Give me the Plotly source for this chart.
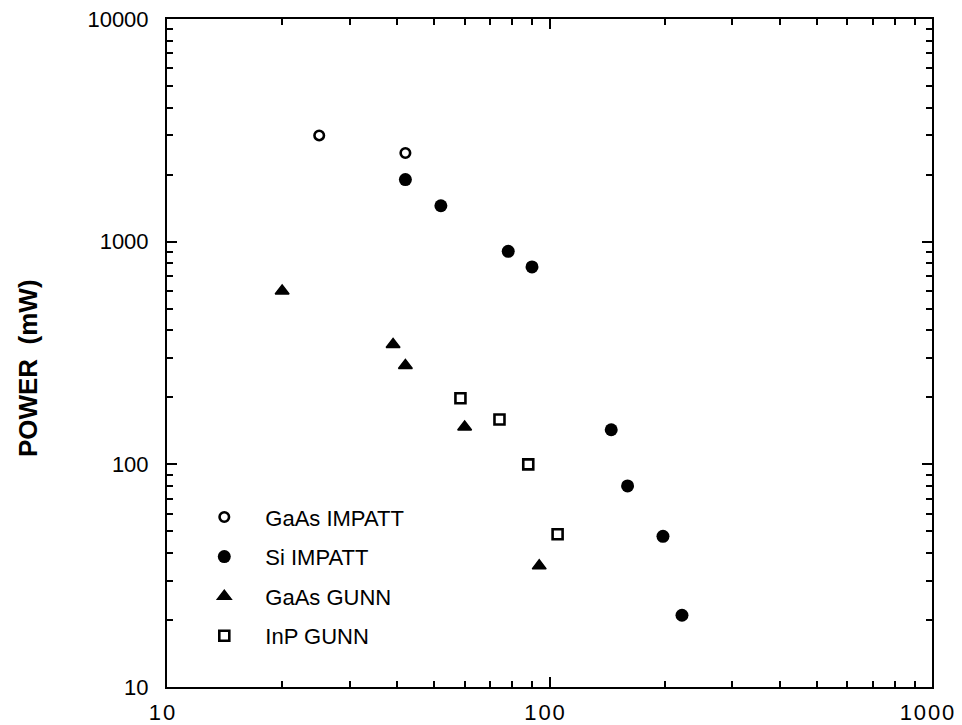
import plotly.graph_objects as go

# Data (frequency in GHz, power in mW)
gaas_impatt_f = [25, 42]
gaas_impatt_p = [3000, 2500]

si_impatt_f = [42, 52, 78, 90, 145, 160, 198, 222]
si_impatt_p = [1900, 1450, 905, 770, 143, 80, 47.5, 21]

gaas_gunn_f = [20, 39, 42, 60, 94]
gaas_gunn_p = [600, 345, 278, 147, 35]

inp_gunn_f = [58.5, 74, 88, 105]
inp_gunn_p = [198, 159, 100, 48.5]

x_tickvals = [10, 100, 1000]
x_ticktext = ["1\u200a0", "1\u200a0\u200a0", "1\u200a0\u200a0\u200a0"]
y_tickvals = [10, 100, 1000, 10000]
y_ticktext = ["10", "100", "1000", "10000"]

x_minor = [m * d for d in (10, 100) for m in range(2, 10)]
y_minor = [m * d for d in (10, 100, 1000) for m in range(2, 10)]

FONT = "Arial, Liberation Sans, sans-serif"
fig = go.Figure()

fig.add_trace(go.Scatter(
    x=gaas_impatt_f, y=gaas_impatt_p, mode="markers", name="GaAs IMPATT",
    legendgroup="a",
    marker=dict(symbol="circle-open", size=9.5, color="black", line=dict(width=2.6, color="black"))))
fig.add_trace(go.Scatter(
    x=si_impatt_f, y=si_impatt_p, mode="markers", name="Si IMPATT",
    legendgroup="b",
    marker=dict(symbol="circle", size=13, color="black")))
fig.add_trace(go.Scatter(
    x=gaas_gunn_f, y=gaas_gunn_p, mode="markers", name="GaAs GUNN",
    legendgroup="c",
    marker=dict(symbol="triangle-up", size=12, color="black", line=dict(width=1.5, color="black"))))
fig.add_trace(go.Scatter(
    x=inp_gunn_f, y=inp_gunn_p, mode="markers", name="InP GUNN",
    legendgroup="d",
    marker=dict(symbol="square-open", size=10, color="black", line=dict(width=2.6, color="black"))))

axis_common = dict(
    type="log", showgrid=False, zeroline=False,
    showline=True, linewidth=2, linecolor="black", mirror="allticks",
    ticks="inside", ticklen=10, tickwidth=2, tickcolor="black",
    tickfont=dict(family=FONT, size=22, color="black"),
    ticklabeloverflow="allow",
)

fig.update_xaxes(
    **axis_common, range=[1, 3], tickvals=x_tickvals, ticktext=x_ticktext,
    ticklabelstandoff=5, ticklabelshift=-5,
    minor=dict(tickvals=x_minor, ticks="inside", ticklen=6, tickwidth=2, tickcolor="black"),
)
fig.update_yaxes(
    **axis_common, range=[1, 4], tickvals=y_tickvals, ticktext=y_ticktext,
    ticklabelstandoff=12,
    minor=dict(tickvals=y_minor, ticks="inside", ticklen=6, tickwidth=2, tickcolor="black"),
)

fig.add_annotation(
    text="<b>POWER\u00a0\u00a0(mW)</b>", textangle=-90,
    xref="paper", yref="paper", x=-0.1825, y=0.478,
    xanchor="center", yanchor="middle", showarrow=False,
    font=dict(family=FONT, size=26, color="black"),
)

fig.update_layout(
    width=962, height=725,
    margin=dict(l=167, r=30, t=19, b=38, autoexpand=False),
    paper_bgcolor="white", plot_bgcolor="white",
    showlegend=True,
    legend=dict(
        x=0.0213, y=0.2856, xanchor="left", yanchor="top",
        bgcolor="rgba(0,0,0,0)", borderwidth=0,
        font=dict(family=FONT, size=22, color="black"),
        itemwidth=72, traceorder="grouped", tracegroupgap=8,
    ),
)

# remove the browser's default 8px page margin so the figure fills the window
fig.write_html(
    "out.html",
    config={"displayModeBar": False},
    post_script="document.body.style.margin='0';document.body.style.overflow='hidden';",
)
